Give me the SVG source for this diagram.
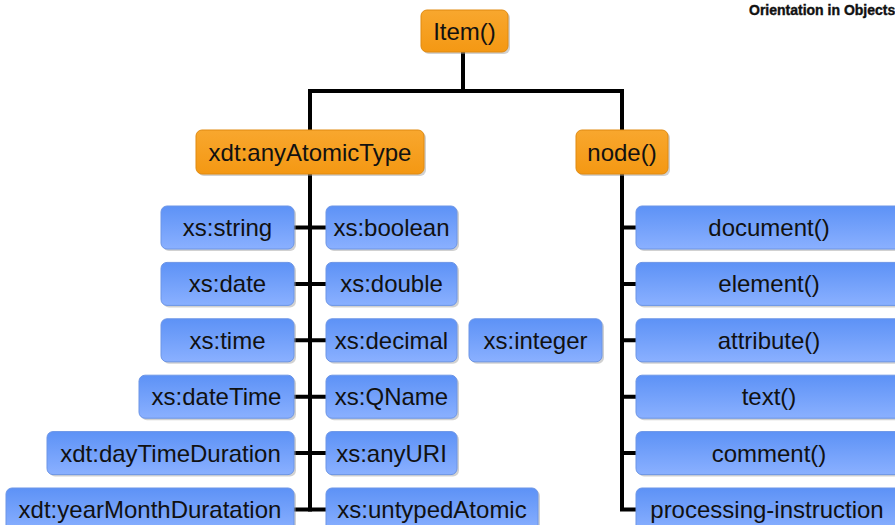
<svg xmlns="http://www.w3.org/2000/svg" width="895" height="525" viewBox="0 0 895 525">
  <defs>
    <linearGradient id="gOrange" x1="0" y1="0" x2="0" y2="1">
      <stop offset="0" stop-color="#f8a72e"/>
      <stop offset="1" stop-color="#f49813"/>
    </linearGradient>
    <linearGradient id="gBlue" x1="0" y1="0" x2="0" y2="1">
      <stop offset="0" stop-color="#5d92f6"/>
      <stop offset="1" stop-color="#8ab0ff"/>
    </linearGradient>
  </defs>
  <style>
    .shadow { fill: #9a9a9a; opacity: 0.45; }
    .orange { fill: url(#gOrange); stroke: #e08a10; stroke-width: 1; }
    .blue { fill: url(#gBlue); stroke: #6c95e6; stroke-width: 1; }
    .label { font-family: "Liberation Sans", Arial, sans-serif; font-size: 24px; fill: #111; text-anchor: middle; }
    .conn { fill: none; stroke: #000; stroke-width: 4; stroke-linejoin: miter; stroke-linecap: butt; }
    .brand { font-family: "Liberation Sans", Arial, sans-serif; font-size: 14px; font-weight: bold; fill: #111; stroke: #111; stroke-width: 0.4; }
  </style>

  <text class="brand" x="749" y="15">Orientation in Objects</text>

  <g id="connectors">
    <path class="conn" d="M463,52 V91 M308,91 H624 M310,91 V130 M622,91 V130"/>
    <!-- atomic type trunk -->
    <path class="conn" d="M310,174 V511.5"/>
    <path class="conn" d="M294,227.5 H326 M294,283.9 H326 M294,340.3 H326 M294,396.7 H326 M294,453.1 H326 M294,509.5 H326"/>
    <!-- node trunk -->
    <path class="conn" d="M622,174 V509.5 H636"/>
    <path class="conn" d="M622,227.5 H636 M622,283.9 H636 M622,340.3 H636 M622,396.7 H636 M622,453.1 H636"/>
  </g>

  <g id="item">
    <rect class="shadow" x="423" y="12" width="87" height="42" rx="6"/>
    <rect class="orange" x="421" y="10" width="87" height="42" rx="6"/>
    <text class="label" x="464.5" y="39.5">Item()</text>
  </g>
  <g id="anyAtomicType">
    <rect class="shadow" x="198" y="132" width="228" height="44" rx="6"/>
    <rect class="orange" x="196" y="130" width="228" height="44" rx="6"/>
    <text class="label" x="310" y="160.5">xdt:anyAtomicType</text>
  </g>
  <g id="node">
    <rect class="shadow" x="578" y="132" width="92" height="44" rx="6"/>
    <rect class="orange" x="576" y="130" width="92" height="44" rx="6"/>
    <text class="label" x="622" y="160.5">node()</text>
  </g>

  <!-- left column -->
  <g id="string">
    <rect class="shadow" x="163" y="208" width="133" height="43" rx="6"/>
    <rect class="blue" x="161" y="206" width="133" height="43" rx="6"/>
    <text class="label" x="227.5" y="236">xs:string</text>
  </g>
  <g id="date">
    <rect class="shadow" x="163" y="264.4" width="133" height="43" rx="6"/>
    <rect class="blue" x="161" y="262.4" width="133" height="43" rx="6"/>
    <text class="label" x="227.5" y="292.4">xs:date</text>
  </g>
  <g id="time">
    <rect class="shadow" x="163" y="320.8" width="133" height="43" rx="6"/>
    <rect class="blue" x="161" y="318.8" width="133" height="43" rx="6"/>
    <text class="label" x="227.5" y="348.8">xs:time</text>
  </g>
  <g id="dateTime">
    <rect class="shadow" x="141" y="377.2" width="155" height="43" rx="6"/>
    <rect class="blue" x="139" y="375.2" width="155" height="43" rx="6"/>
    <text class="label" x="216.5" y="405.2">xs:dateTime</text>
  </g>
  <g id="dayTimeDuration">
    <rect class="shadow" x="49" y="433.6" width="247" height="43" rx="6"/>
    <rect class="blue" x="47" y="431.6" width="247" height="43" rx="6"/>
    <text class="label" x="170.5" y="461.6">xdt:dayTimeDuration</text>
  </g>
  <g id="yearMonthDuration">
    <rect class="shadow" x="8" y="490" width="288" height="43" rx="6"/>
    <rect class="blue" x="6" y="488" width="288" height="43" rx="6"/>
    <text class="label" x="150" y="518">xdt:yearMonthDuratation</text>
  </g>

  <!-- right column -->
  <g id="boolean">
    <rect class="shadow" x="328" y="208" width="131" height="43" rx="6"/>
    <rect class="blue" x="326" y="206" width="131" height="43" rx="6"/>
    <text class="label" x="391.5" y="236">xs:boolean</text>
  </g>
  <g id="double">
    <rect class="shadow" x="328" y="264.4" width="131" height="43" rx="6"/>
    <rect class="blue" x="326" y="262.4" width="131" height="43" rx="6"/>
    <text class="label" x="391.5" y="292.4">xs:double</text>
  </g>
  <g id="decimal">
    <rect class="shadow" x="328" y="320.8" width="131" height="43" rx="6"/>
    <rect class="blue" x="326" y="318.8" width="131" height="43" rx="6"/>
    <text class="label" x="391.5" y="348.8">xs:decimal</text>
  </g>
  <g id="QName">
    <rect class="shadow" x="328" y="377.2" width="131" height="43" rx="6"/>
    <rect class="blue" x="326" y="375.2" width="131" height="43" rx="6"/>
    <text class="label" x="391.5" y="405.2">xs:QName</text>
  </g>
  <g id="anyURI">
    <rect class="shadow" x="328" y="433.6" width="131" height="43" rx="6"/>
    <rect class="blue" x="326" y="431.6" width="131" height="43" rx="6"/>
    <text class="label" x="391.5" y="461.6">xs:anyURI</text>
  </g>
  <g id="untypedAtomic">
    <rect class="shadow" x="328" y="490" width="212" height="43" rx="6"/>
    <rect class="blue" x="326" y="488" width="212" height="43" rx="6"/>
    <text class="label" x="432" y="518">xs:untypedAtomic</text>
  </g>
  <g id="integer">
    <rect class="shadow" x="471" y="320.8" width="133" height="43" rx="6"/>
    <rect class="blue" x="469" y="318.8" width="133" height="43" rx="6"/>
    <text class="label" x="535.5" y="348.8">xs:integer</text>
  </g>

  <!-- node kinds -->
  <g id="document">
    <rect class="shadow" x="638" y="208" width="266" height="43" rx="6"/>
    <rect class="blue" x="636" y="206" width="266" height="43" rx="6"/>
    <text class="label" x="769" y="236">document()</text>
  </g>
  <g id="element">
    <rect class="shadow" x="638" y="264.4" width="266" height="43" rx="6"/>
    <rect class="blue" x="636" y="262.4" width="266" height="43" rx="6"/>
    <text class="label" x="769" y="292.4">element()</text>
  </g>
  <g id="attribute">
    <rect class="shadow" x="638" y="320.8" width="266" height="43" rx="6"/>
    <rect class="blue" x="636" y="318.8" width="266" height="43" rx="6"/>
    <text class="label" x="769" y="348.8">attribute()</text>
  </g>
  <g id="text">
    <rect class="shadow" x="638" y="377.2" width="266" height="43" rx="6"/>
    <rect class="blue" x="636" y="375.2" width="266" height="43" rx="6"/>
    <text class="label" x="769" y="405.2">text()</text>
  </g>
  <g id="comment">
    <rect class="shadow" x="638" y="433.6" width="266" height="43" rx="6"/>
    <rect class="blue" x="636" y="431.6" width="266" height="43" rx="6"/>
    <text class="label" x="769" y="461.6">comment()</text>
  </g>
  <g id="processing-instruction">
    <rect class="shadow" x="638" y="490" width="266" height="43" rx="6"/>
    <rect class="blue" x="636" y="488" width="266" height="43" rx="6"/>
    <text class="label" x="767" y="518">processing-instruction</text>
  </g>
</svg>
